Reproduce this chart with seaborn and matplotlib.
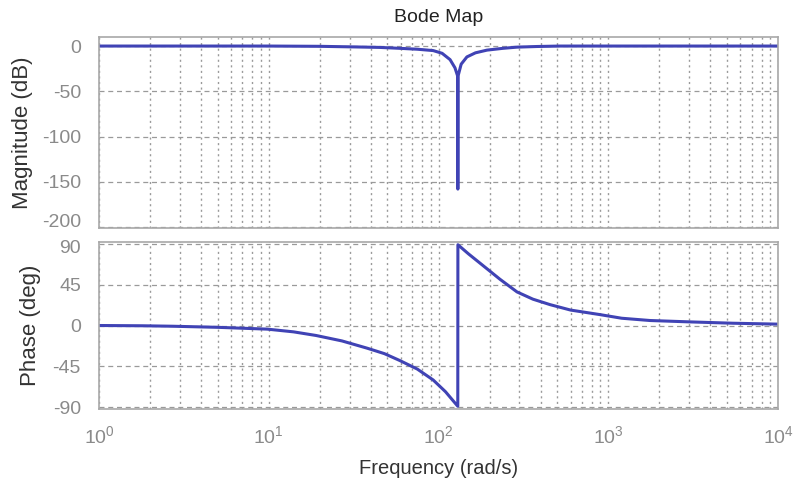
import numpy as np
import pandas as pd
import matplotlib
matplotlib.use("Agg")
import matplotlib.pyplot as plt
import matplotlib.transforms as mtransforms
from matplotlib.ticker import LogLocator, FixedLocator, NullFormatter
import seaborn as sns

# Frequency response samples (rad/s)
mag_freq = [1, 3, 10, 20, 33, 45, 59, 75, 93, 105, 117, 125, 129.6, 130, 130.4, 136, 147, 165, 193, 240, 290, 380, 520, 1000, 3000, 10000]
mag_db = [0, 0, 0, -0.3, -1, -1.5, -2.5, -3.5, -5, -8, -15, -24, -33, -158, -33, -20, -12, -7.5, -4.5, -2.5, -1.2, -0.5, 0, 0, 0, 0]

phase_freq = [1, 1.8, 2.7, 5, 9.8, 14, 19, 27, 38, 48, 59, 75, 93, 110, 129.9, 130.1, 150, 183, 230, 290, 360, 454, 600, 894, 1200, 1762, 3000, 5430, 10000]
phase_deg = [0, -0.3, -0.8, -2, -4, -7, -11, -17, -25, -31, -38.5, -48, -60, -73, -89, 89, 79, 66, 51, 37, 29, 23, 17, 12, 8, 5.5, 4, 2.5, 1.5]

title = "Bode Map"
xlabel = "Frequency (rad/s)"
mag_label = "Magnitude (dB)"
phase_label = "Phase (deg)"
mag_ticks = [0, -50, -100, -150, -200]
phase_ticks = [90, 45, 0, -45, -90]
decades = [1, 10, 100, 1000, 10000]

sns.set_theme(style="white")
plt.rcParams["font.family"] = ["Liberation Sans", "DejaVu Sans"]
plt.rcParams["mathtext.default"] = "regular"
plt.rcParams["axes.unicode_minus"] = False

line_color = "#4043b5"
grid_color = "#9a9a9a"
tick_color = "#8a8a8a"
label_color = "#333333"

fig = plt.figure(figsize=(8.01, 4.82), dpi=100)
ax1 = fig.add_axes([99 / 801, 1 - 228 / 482, (778 - 99) / 801, (228 - 37) / 482])
ax2 = fig.add_axes([99 / 801, 1 - 409 / 482, (778 - 99) / 801, (409 - 242) / 482])

df_mag = pd.DataFrame({"freq": mag_freq, "mag": mag_db})
df_ph = pd.DataFrame({"freq": phase_freq, "phase": phase_deg})

sns.lineplot(data=df_mag, x="freq", y="mag", ax=ax1, color=line_color, lw=2.2,
             sort=False, estimator=None)
sns.lineplot(data=df_ph, x="freq", y="phase", ax=ax2, color=line_color, lw=2.2,
             sort=False, estimator=None)

for ax in (ax1, ax2):
    ax.set_xscale("log")
    ax.set_xlim(1, 1e4)
    ax.xaxis.set_major_locator(FixedLocator(decades))
    ax.xaxis.set_minor_locator(LogLocator(base=10, subs=np.arange(2, 10), numticks=20))
    ax.xaxis.set_minor_formatter(NullFormatter())
    ax.grid(True, which="major", axis="y", color=grid_color, ls=(0, (4, 3)), lw=0.9)
    ax.grid(True, which="both", axis="x", color=grid_color, ls=(0, (1.5, 2.5)), lw=1.0)
    ax.tick_params(axis="both", which="both", length=0, labelsize=14, colors=tick_color)
    ax.tick_params(axis="y", pad=13)
    ax.tick_params(axis="x", pad=12)
    for s in ax.spines.values():
        s.set_color("#a8a8a8")
        s.set_linewidth(1.2)
    ax.set_axisbelow(True)

ax1.set_ylim(-201, 10)
ax1.set_yticks(mag_ticks)
ax1.set_xticklabels([])
ax1.set_xlabel("")
ax1.set_ylabel(mag_label, fontsize=16, color=label_color, labelpad=6)
ax1.set_title(title, fontsize=14, color="#222222", pad=11)

ax2.set_ylim(-92, 92)
ax2.set_yticks(phase_ticks)
ax2.set_xticklabels([f"$10^{{{int(np.log10(d))}}}$" for d in decades])
ax2.set_xlabel(xlabel, fontsize=14.5, color=label_color, labelpad=8)
ax2.set_ylabel(phase_label, fontsize=16, color=label_color, labelpad=8)

# Keep the labels at the shared edge between the two panels apart
fig.canvas.draw()
lbl_bottom = ax1.get_yticklabels()[-1]
lbl_bottom.set_transform(lbl_bottom.get_transform() +
                         mtransforms.ScaledTranslation(0, 7 / 100, fig.dpi_scale_trans))
lbl_top = ax2.get_yticklabels()[0]
lbl_top.set_transform(lbl_top.get_transform() +
                      mtransforms.ScaledTranslation(0, -3 / 100, fig.dpi_scale_trans))

fig.savefig("out.png", dpi=100, facecolor="white")
